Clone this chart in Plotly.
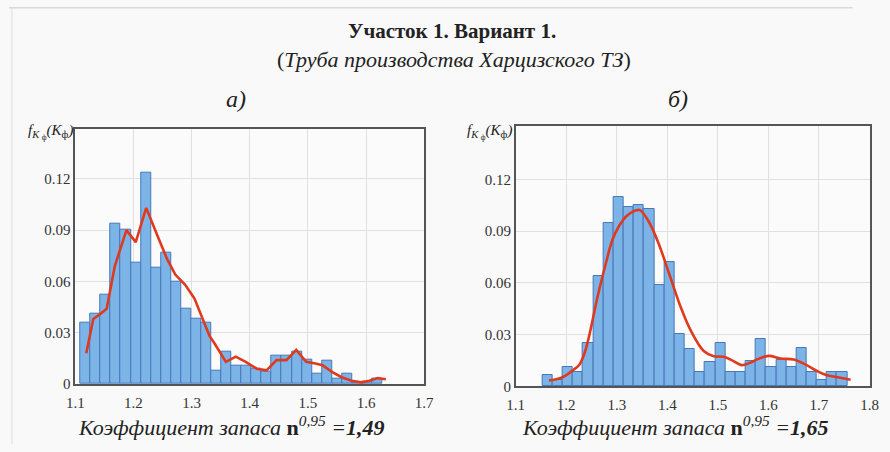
import plotly.graph_objects as go

# ---------------- data ----------------
# Panel a) histogram
a_bin_start = 1.109
a_bin_width = 0.0173
a_bar_heights = [0.036, 0.041, 0.052, 0.094, 0.0905, 0.071, 0.1235, 0.068, 0.077, 0.060,
                 0.044, 0.038, 0.036, 0.008, 0.019, 0.0107, 0.0107, 0.009, 0.0072, 0.0165,
                 0.0165, 0.019, 0.0145, 0.0058, 0.0134, 0.0029, 0.0059, 0.0006, 0.0015, 0.0029]
a_line_x = [1.119, 1.131, 1.143, 1.154, 1.168, 1.188, 1.204, 1.222, 1.241, 1.258, 1.272, 1.289,
            1.305, 1.322, 1.331, 1.339, 1.359, 1.376, 1.393, 1.412, 1.429, 1.446, 1.463, 1.480,
            1.497, 1.513, 1.525, 1.542, 1.558, 1.575, 1.592, 1.606, 1.620, 1.634]
a_line_y = [0.018, 0.038, 0.041, 0.044, 0.069, 0.090, 0.083, 0.103, 0.087, 0.073, 0.064, 0.058,
            0.050, 0.035, 0.028, 0.024, 0.013, 0.016, 0.013, 0.009, 0.008, 0.014, 0.014, 0.020,
            0.013, 0.012, 0.011, 0.007, 0.004, 0.002, 0.001, 0.002, 0.0035, 0.0028]

# Panel б) histogram
b_bin_start = 1.153
b_bin_width = 0.0201
b_bar_heights = [0.0063, 0.0038, 0.0114, 0.0085, 0.025, 0.064, 0.0946, 0.110, 0.104, 0.1054,
                 0.1026, 0.0585, 0.072, 0.0304, 0.0218, 0.0085, 0.0142, 0.025, 0.0085, 0.0085,
                 0.0145, 0.0275, 0.011, 0.0155, 0.011, 0.0222, 0.0081, 0.0034, 0.0081, 0.0081]
b_line_x = [1.166, 1.182, 1.198, 1.214, 1.226, 1.236, 1.246, 1.262, 1.279, 1.2915, 1.3045, 1.320,
            1.337, 1.346, 1.3626, 1.382, 1.4045, 1.427, 1.4465, 1.472, 1.4916, 1.511, 1.530,
            1.5465, 1.5626, 1.579, 1.601, 1.624, 1.650, 1.672, 1.695, 1.714, 1.737, 1.7626]
b_line_y = [0.0034, 0.0042, 0.0061, 0.0095, 0.0125, 0.019, 0.030, 0.052, 0.072, 0.085, 0.093, 0.099,
            0.102, 0.1022, 0.0959, 0.0835, 0.0646, 0.0456, 0.0323, 0.0205, 0.0175, 0.0171, 0.0148,
            0.0123, 0.0135, 0.0158, 0.0177, 0.0161, 0.0156, 0.0129, 0.0091, 0.0066, 0.0053, 0.0038]

y_tick_vals = [0, 0.03, 0.06, 0.09, 0.12]
y_tick_text = ["0", "0.03", "0.06", "0.09", "0.12"]
a_x_ticks = [1.1, 1.2, 1.3, 1.4, 1.5, 1.6, 1.7]
b_x_ticks = [1.1, 1.2, 1.3, 1.4, 1.5, 1.6, 1.7, 1.8]

title_main = "Участок 1. Вариант 1."
title_sub = "(<i>Труба производства Харцизского ТЗ</i>)"
label_a = "а)"
label_b = "б)"
y_title = "<i>f</i><sub><i>K</i> <sub>ф</sub></sub><i>(K</i><sub>ф</sub><i>)</i>"
a_result = "1,49"
b_result = "1,65"

# ---------------- figure ----------------
SERIF = "Liberation Serif, Times New Roman, serif"
BAR_FILL = "#7cb4e8"
BAR_LINE = "#4677b8"
RED = "#e03a1e"

fig = go.Figure()

a_centers = [a_bin_start + a_bin_width * (i + 0.5) for i in range(len(a_bar_heights))]
b_centers = [b_bin_start + b_bin_width * (i + 0.5) for i in range(len(b_bar_heights))]

fig.add_trace(go.Bar(x=a_centers, y=a_bar_heights, width=a_bin_width,
                     marker=dict(color=BAR_FILL, line=dict(color=BAR_LINE, width=1)),
                     xaxis="x", yaxis="y", showlegend=False))
fig.add_trace(go.Scatter(x=a_line_x, y=a_line_y, mode="lines",
                         line=dict(color=RED, width=2.6),
                         xaxis="x", yaxis="y", showlegend=False))
fig.add_trace(go.Bar(x=b_centers, y=b_bar_heights, width=b_bin_width,
                     marker=dict(color=BAR_FILL, line=dict(color=BAR_LINE, width=1)),
                     xaxis="x2", yaxis="y2", showlegend=False))
fig.add_trace(go.Scatter(x=b_line_x, y=b_line_y, mode="lines", line_shape="spline",
                         line=dict(color=RED, width=2.6),
                         xaxis="x2", yaxis="y2", showlegend=False))

W, H = 890, 452

def px_x(p):
    return p / W

def px_y(p):
    return 1 - p / H

axis_common = dict(showgrid=True, gridcolor="#e0e0e0", gridwidth=1,
                   showline=True, linecolor="#555555", linewidth=1.5, mirror=True,
                   ticks="", zeroline=False,
                   tickfont=dict(family=SERIF, size=15, color="#333333"))

fig.update_layout(
    width=W, height=H,
    margin=dict(l=0, r=0, t=0, b=0),
    paper_bgcolor="#f9f9f9",
    plot_bgcolor="#fbfbfb",
    bargap=0,
    font=dict(family=SERIF),
    xaxis=dict(domain=[px_x(67.7), px_x(424.3)], range=[1.1, 1.7], tickvals=a_x_ticks,
               anchor="y", ticklabelstandoff=4, **axis_common),
    yaxis=dict(domain=[px_y(391), px_y(131)], range=[0, 0.1493], tickvals=y_tick_vals,
               ticktext=y_tick_text, anchor="x", **axis_common),
    xaxis2=dict(domain=[px_x(517.7), px_x(879.3)], range=[1.1, 1.8], tickvals=b_x_ticks,
                anchor="y2", ticklabelstandoff=4, **axis_common),
    yaxis2=dict(domain=[px_y(393.3), px_y(128.3)], range=[0, 0.151], tickvals=y_tick_vals,
                ticktext=y_tick_text, anchor="x2", **axis_common),
)

def anno(text, x, y, size, xanchor="center"):
    return dict(text=text, x=px_x(x), y=px_y(y), xref="paper", yref="paper",
                xanchor=xanchor, yanchor="middle", showarrow=False,
                font=dict(family=SERIF, size=size, color="#222222"))

def result_text(val):
    return ("<i>Коэффициент запаса </i><b>n</b><sup><i>0,95</i></sup>"
            "<i> =</i><b><i>" + val + "</i></b>")

annos = [
    anno("<b>" + title_main + "</b>", 453, 32, 21),
    anno(title_sub, 455, 61, 22),
    anno("<i>" + label_a + "</i>", 232, 101, 24),
    anno("<i>" + label_b + "</i>", 684, 101, 24),
    anno(y_title, 67, 134, 15, xanchor="right"),
    anno(y_title, 516, 134, 15, xanchor="right"),
    anno(result_text(a_result), 227, 434, 22),
    anno(result_text(b_result), 681, 434, 22),
]
fig.update_layout(annotations=annos)

fig.update_layout(shapes=[
    dict(type="line", xref="paper", yref="paper", x0=0, x1=px_x(862), y0=px_y(8), y1=px_y(8),
         line=dict(color="#c8c8c8", width=1)),
    dict(type="line", xref="paper", yref="paper", x0=px_x(3), x1=px_x(3), y0=0, y1=px_y(8),
         line=dict(color="#dddddd", width=1)),
])

fig.write_html("out.html")
